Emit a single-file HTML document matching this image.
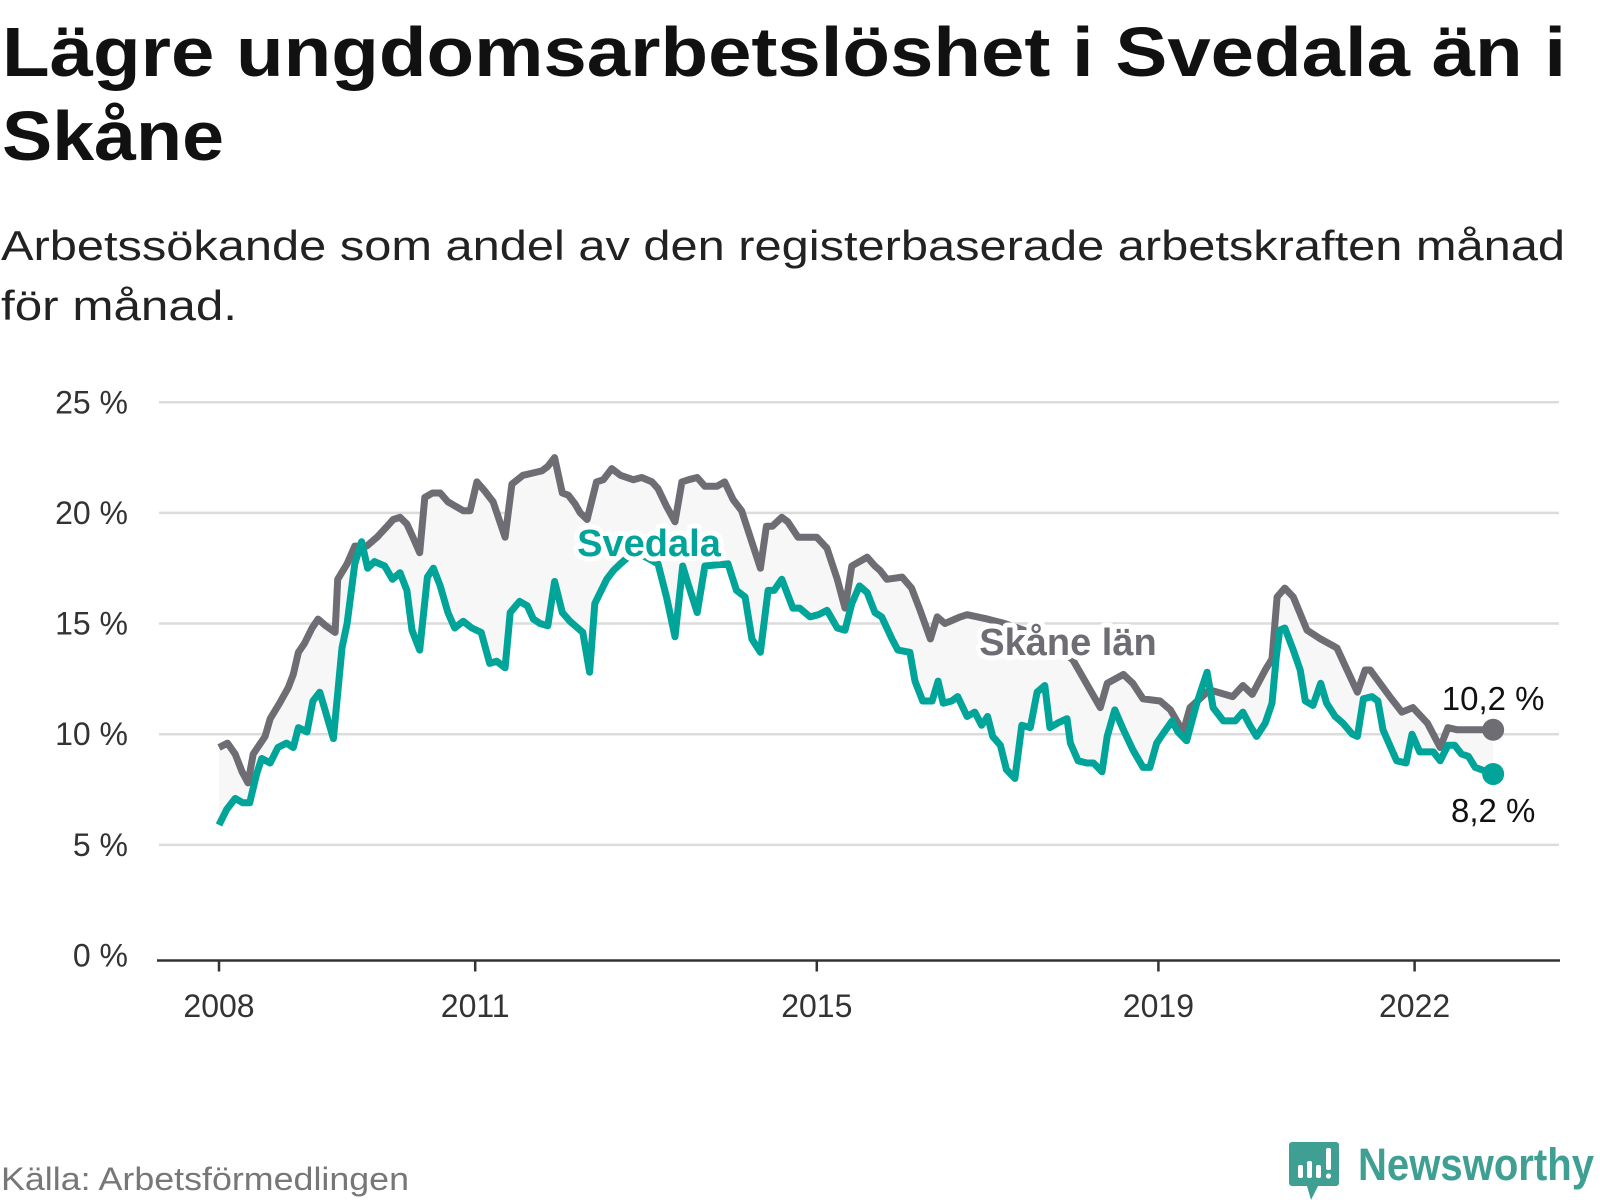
<!DOCTYPE html>
<html><head><meta charset="utf-8"><style>
html,body{margin:0;padding:0;background:#fff;}
svg{display:block;font-family:"Liberation Sans",sans-serif;}
</style></head><body>
<svg id="chart" width="1600" height="1200" viewBox="0 0 1600 1200" xmlns="http://www.w3.org/2000/svg">
<text x="2" y="76" font-size="70" font-weight="bold" fill="#111" textLength="1564" lengthAdjust="spacingAndGlyphs">Lägre ungdomsarbetslöshet i Svedala än i</text>
<text x="2" y="160" font-size="70" font-weight="bold" fill="#111" textLength="222" lengthAdjust="spacingAndGlyphs">Skåne</text>
<text x="1" y="260" font-size="42" fill="#222" textLength="1564" lengthAdjust="spacingAndGlyphs">Arbetssökande som andel av den registerbaserade arbetskraften månad</text>
<text x="1" y="320" font-size="42" fill="#222" textLength="236" lengthAdjust="spacingAndGlyphs">för månad.</text>
<g id="grid"></g>
<g id="plot"></g>
<text x="1" y="1190" font-size="32" fill="#777" textLength="408" lengthAdjust="spacingAndGlyphs">Källa: Arbetsförmedlingen</text>
<g>
<path d="M1292 1142 h44 a3 3 0 0 1 3 3 v38 a3 3 0 0 1 -3 3 h-18 l-7 14 l-4 -14 h-15 a3 3 0 0 1 -3 -3 v-38 a3 3 0 0 1 3 -3z" fill="#3f9f93"/>
<rect x="1298" y="1165" width="5" height="13" rx="2" fill="#fff"/>
<rect x="1307" y="1161" width="5" height="17" rx="2" fill="#fff"/>
<rect x="1316" y="1165" width="5" height="13" rx="2" fill="#fff"/>
<rect x="1326" y="1148" width="5" height="22" rx="2" fill="#fff"/>
<circle cx="1328.5" cy="1176" r="2.6" fill="#fff"/>
<text x="1358" y="1180" font-size="45" font-weight="bold" fill="#3f9f93" textLength="236" lengthAdjust="spacingAndGlyphs">Newsworthy</text>
</g>
</svg>
<script>
// time in years since Jan 2008, values in %
const skaneT = [0,0.1,0.19,0.27,0.34,0.4,0.47,0.54,0.6,0.71,0.81,0.87,0.93,1.0,1.09,1.16,1.25,1.36,1.39,1.5,1.59,1.73,1.85,1.97,2.04,2.12,2.2,2.27,2.35,2.41,2.5,2.59,2.68,2.77,2.86,2.94,3.02,3.11,3.21,3.35,3.43,3.56,3.67,3.78,3.85,3.93,4.02,4.09,4.17,4.23,4.31,4.42,4.5,4.6,4.7,4.85,4.95,5.07,5.14,5.24,5.34,5.42,5.5,5.6,5.69,5.83,5.92,6.02,6.12,6.34,6.41,6.48,6.59,6.66,6.78,6.92,7.0,7.12,7.24,7.33,7.41,7.59,7.68,7.74,7.82,8.0,8.11,8.21,8.33,8.41,8.5,8.68,8.76,9.0,9.2,9.5,9.8,10.0,10.32,10.4,10.59,10.7,10.82,11.02,11.14,11.29,11.37,11.6,11.87,11.99,12.1,12.25,12.33,12.39,12.48,12.58,12.74,12.9,13.09,13.21,13.33,13.42,13.48,13.71,13.85,13.98,14.15,14.3,14.39,14.5,14.7,14.92];
const skaneV = [9.4,9.6,9.1,8.3,7.8,9.1,9.5,9.9,10.7,11.4,12.1,12.7,13.7,14.1,14.8,15.2,14.9,14.6,17.0,17.7,18.5,18.5,18.9,19.4,19.7,19.8,19.5,18.9,18.2,20.7,20.9,20.9,20.5,20.3,20.1,20.1,21.4,21.0,20.5,18.9,21.3,21.7,21.8,21.9,22.1,22.5,20.9,20.8,20.4,20.0,19.7,21.4,21.5,22.0,21.7,21.5,21.6,21.4,21.1,20.3,19.6,21.4,21.5,21.6,21.2,21.2,21.4,20.6,20.1,17.5,19.4,19.4,19.8,19.6,18.9,18.9,18.9,18.4,17.0,15.7,17.6,18.0,17.6,17.4,17.0,17.1,16.6,15.6,14.3,15.3,15.0,15.3,15.4,15.2,15.0,14.6,14.0,13.35,11.2,12.3,12.7,12.3,11.6,11.5,11.1,10.1,11.2,12.0,11.7,12.2,11.8,12.9,13.4,16.2,16.6,16.2,14.7,14.3,13.9,12.9,11.9,12.9,12.9,11.7,11.0,11.2,10.5,9.4,10.3,10.2,10.2,10.2];
const svedalaT = [0,0.09,0.19,0.28,0.36,0.44,0.5,0.6,0.69,0.79,0.87,0.93,1.03,1.1,1.18,1.34,1.44,1.5,1.59,1.67,1.74,1.82,1.94,2.03,2.12,2.2,2.26,2.35,2.44,2.51,2.59,2.68,2.76,2.86,2.96,3.07,3.17,3.25,3.35,3.41,3.52,3.61,3.68,3.76,3.85,3.93,4.02,4.11,4.2,4.26,4.34,4.4,4.54,4.62,4.7,4.85,5.0,5.14,5.24,5.34,5.43,5.5,5.6,5.69,5.96,6.06,6.16,6.24,6.34,6.43,6.5,6.59,6.72,6.8,6.92,7.02,7.12,7.24,7.33,7.41,7.5,7.59,7.68,7.76,7.88,7.95,8.09,8.15,8.24,8.35,8.42,8.48,8.58,8.65,8.76,8.85,8.93,9.0,9.06,9.15,9.22,9.32,9.4,9.5,9.58,9.67,9.73,9.82,9.93,9.97,10.06,10.16,10.24,10.34,10.4,10.49,10.59,10.7,10.82,10.9,10.98,11.05,11.16,11.23,11.33,11.45,11.57,11.64,11.76,11.9,11.99,12.07,12.15,12.25,12.33,12.38,12.42,12.48,12.58,12.66,12.72,12.81,12.9,12.97,13.07,13.16,13.27,13.33,13.4,13.5,13.57,13.63,13.71,13.79,13.9,13.97,14.06,14.22,14.3,14.39,14.47,14.55,14.63,14.71,14.92];
const svedalaV = [5.9,6.6,7.1,6.9,6.9,8.2,8.9,8.7,9.4,9.6,9.4,10.3,10.1,11.5,11.9,9.8,13.9,15.0,17.7,18.7,17.5,17.8,17.6,17.0,17.3,16.5,14.7,13.8,17.1,17.5,16.7,15.5,14.8,15.1,14.8,14.6,13.2,13.3,13.0,15.5,16.0,15.8,15.2,15.0,14.9,16.9,15.5,15.1,14.8,14.6,12.8,15.9,17.0,17.4,17.7,18.2,18.0,17.7,16.2,14.4,17.6,16.7,15.5,17.6,17.7,16.5,16.2,14.3,13.7,16.5,16.5,17.0,15.7,15.7,15.3,15.4,15.6,14.8,14.7,15.9,16.7,16.4,15.5,15.3,14.3,13.8,13.7,12.4,11.5,11.5,12.4,11.4,11.5,11.7,10.8,11.0,10.4,10.8,9.9,9.5,8.4,8.0,10.4,10.3,11.9,12.2,10.3,10.5,10.7,9.6,8.8,8.7,8.7,8.3,9.9,11.1,10.2,9.3,8.5,8.5,9.6,10.0,10.6,10.1,9.7,11.4,12.8,11.2,10.6,10.6,11.0,10.4,9.9,10.5,11.4,13.5,14.7,14.8,13.8,12.9,11.5,11.3,12.3,11.4,10.8,10.5,10.0,9.9,11.6,11.7,11.5,10.2,9.5,8.8,8.7,10.0,9.2,9.2,8.8,9.5,9.5,9.1,9.0,8.5,8.2];
const yTicks = [0,5,10,15,20,25];
const yTickLabels = ["0 %","5 %","10 %","15 %","20 %","25 %"];
const xTicks = [0,3,7,11,14];
const xTickLabels = ["2008","2011","2015","2019","2022"];

const NS = "http://www.w3.org/2000/svg";
const X0 = 219, XS = 85.4, Y0 = 955.5, YS = 22.13;
const xs = t => X0 + t * XS;
const ys = v => Y0 - v * YS;
function mk(tag, attrs, parent){ const e = document.createElementNS(NS, tag); for (const k in attrs) e.setAttribute(k, attrs[k]); parent.appendChild(e); return e; }
const grid = document.getElementById('grid');
const plot = document.getElementById('plot');

yTicks.forEach((v,i) => {
  if (v !== 0) {
    const l = mk('line', {x1:159, x2:1559, y1:ys(v), y2:ys(v), stroke:'#dcdcdc', 'stroke-width':2.5}, grid);
    
    
  }
  const t = mk('text', {x:128, y:ys(v)+11, 'text-anchor':'end', 'font-size':32, fill:'#333'}, grid);
  
  
  t.textContent = yTickLabels[i];
});
const ax = mk('line', {x1:157, x2:1560, y1:Y0+5, y2:Y0+5, stroke:'#333', 'stroke-width':2.5}, grid);


xTicks.forEach((t,i) => {
  const tk = mk('line', {x1:xs(t), x2:xs(t), y1:Y0+5, y2:Y0+16, stroke:'#333', 'stroke-width':2.5}, grid);
  
  
  const tx = mk('text', {x:xs(t), y:1017, 'text-anchor':'middle', 'font-size':32, fill:'#333'}, grid);
  
  
  tx.textContent = xTickLabels[i];
});

const gPts = skaneT.map((t,i) => xs(t).toFixed(1)+','+ys(skaneV[i]).toFixed(1));
const sPts = svedalaT.map((t,i) => xs(t).toFixed(1)+','+ys(svedalaV[i]).toFixed(1));
const area = mk('polygon', {points: gPts.concat(sPts.slice().reverse()).join(' '), fill:'#f7f7f7'}, plot);


const gl = mk('polyline', {points:gPts.join(' '), fill:'none', stroke:'#6e6d73', 'stroke-width':7, 'stroke-linejoin':'round'}, plot);


const sl = mk('polyline', {points:sPts.join(' '), fill:'none', stroke:'#00a499', 'stroke-width':7, 'stroke-linejoin':'round'}, plot);



const gEnd = skaneV.length-1, sEnd = svedalaV.length-1;
const gd = mk('circle', {cx:xs(skaneT[gEnd]), cy:ys(skaneV[gEnd]), r:11, fill:'#6e6d73'}, plot);


const sd = mk('circle', {cx:xs(svedalaT[sEnd]), cy:ys(svedalaV[sEnd]), r:11, fill:'#00a499'}, plot);


const fmt = v => v.toFixed(1).replace('.', ',') + ' %';
const gv = mk('text', {x:xs(skaneT[gEnd]), y:ys(skaneV[gEnd])-20, 'text-anchor':'middle', 'font-size':33, fill:'#111'}, plot);


gv.textContent = fmt(skaneV[gEnd]);
const sv = mk('text', {x:xs(svedalaT[sEnd]), y:ys(svedalaV[sEnd])+48, 'text-anchor':'middle', 'font-size':33, fill:'#111'}, plot);


sv.textContent = fmt(svedalaV[sEnd]);

const l1 = mk('text', {x:649, y:556, 'text-anchor':'middle', 'font-size':38, 'font-weight':'bold', fill:'#00a499', stroke:'#fff', 'stroke-width':10, 'stroke-linejoin':'round', 'paint-order':'stroke'}, plot);


l1.textContent = 'Svedala';
const l2 = mk('text', {x:1068, y:655, 'text-anchor':'middle', 'font-size':38, 'font-weight':'bold', fill:'#6e6d73', stroke:'#fff', 'stroke-width':10, 'stroke-linejoin':'round', 'paint-order':'stroke'}, plot);


l2.textContent = 'Skåne län';
</script>
</body></html>
